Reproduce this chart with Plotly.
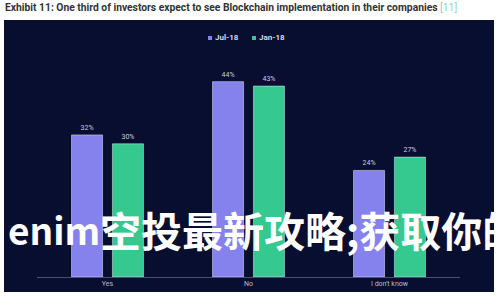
import plotly.graph_objects as go

categories = ["Yes", "No", "I don't know"]
jul18 = [32, 44, 24]
jan18 = [30, 43, 27]
series_names = ["Jul-18", "Jan-18"]
series_colors = ["#8582ee", "#36c98f"]

W, H = 500, 300
ml, mr, mt, mb = 37, 40, 55, 23
pw, ph = W - ml - mr, H - mt - mb

def px_x(x):
    return (x - ml) / pw

def px_y(y):
    return (H - mb - y) / ph

fig = go.Figure()
for name, vals, col in zip(series_names, [jul18, jan18], series_colors):
    fig.add_bar(x=categories, y=vals, name=name, marker_color=col,
                text=[f"{v}%" for v in vals], textposition="outside",
                textfont=dict(size=7, color="#c8cbe0"), cliponaxis=False)

fig.add_shape(type="rect", xref="paper", yref="paper",
              x0=px_x(4), x1=px_x(494), y0=px_y(292), y1=px_y(20),
              fillcolor="#070e30", line=dict(width=0), layer="below")

fig.add_annotation(xref="paper", yref="paper", x=px_x(3), y=px_y(8),
                   xanchor="left", yanchor="middle", showarrow=False,
                   text="<b>Exhibit 11: One third of investors expect to see Blockchain implementation in their companies</b> <span style='color:#8fd3c8'>[11]</span>",
                   font=dict(family="Roboto, Arial", size=10.3, color="#333333"))

# legend (drawn as text + swatches to match the compact reference layout)
for name, col, x0 in zip(series_names, series_colors, [208, 252]):
    fig.add_shape(type="rect", xref="paper", yref="paper",
                  x0=px_x(x0), x1=px_x(x0 + 4), y0=px_y(40), y1=px_y(36),
                  fillcolor=col, line=dict(width=0))
    fig.add_annotation(xref="paper", yref="paper", x=px_x(x0 + 5), y=px_y(38),
                       xanchor="left", yanchor="middle", showarrow=False,
                       text=f"<b>{name}</b>",
                       font=dict(family="Roboto, Arial", size=8, color="#d6d9ea"))

# overlay banner text
fig.add_annotation(xref="paper", yref="paper", x=px_x(6), y=px_y(229),
                   xanchor="left", yanchor="middle", showarrow=False,
                   text="<b>enim</b>",
                   font=dict(family="Noto Sans CJK SC", size=37, color="#ffffff"))
fig.add_annotation(xref="paper", yref="paper", x=px_x(98), y=px_y(229),
                   xanchor="left", yanchor="middle", showarrow=False,
                   text="<b>空投最新攻略;获取你的</b>",
                   font=dict(family="Noto Sans CJK SC", size=41, color="#ffffff"))

fig.update_layout(
    width=W, height=H,
    margin=dict(l=ml, r=mr, t=mt, b=mb),
    paper_bgcolor="#ffffff", plot_bgcolor="rgba(0,0,0,0)",
    barmode="group", bargap=0.42, bargroupgap=0.24,
    showlegend=False,
    font=dict(family="Roboto, Arial"),
)
fig.update_xaxes(showline=True, linecolor="#4a5175", linewidth=1, showgrid=False,
                 ticks="", tickfont=dict(size=7, color="#b8bcd4"), fixedrange=True)
fig.update_yaxes(range=[0, 50], visible=False, showgrid=False, zeroline=False)

fig.write_html("out.html")
